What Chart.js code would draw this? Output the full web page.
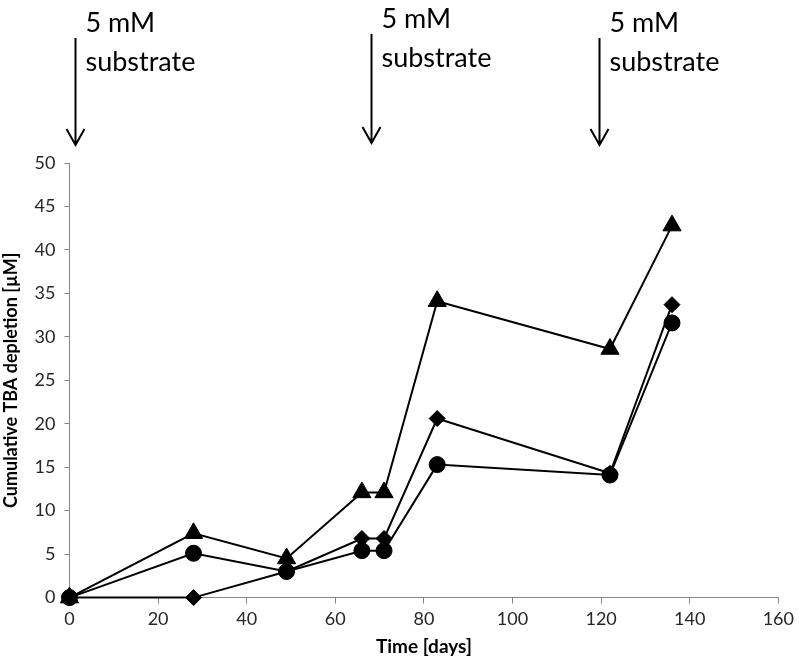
<!DOCTYPE html>
<html>
<head>
<meta charset="utf-8">
<script src="https://cdn.jsdelivr.net/npm/chart.js@4/dist/chart.umd.min.js"></script>
<style>
  html, body { margin: 0; padding: 0; background: #fff; }
  #wrap { width: 799px; height: 661px; }
</style>
</head>
<body>
<div id="wrap"><canvas id="tbaChart"></canvas></div>
<script>
// sampling days (same for all three series)
const days = [0, 28, 49, 66, 71, 83, 122, 136];

// cumulative TBA depletion [µM]
const triangleValues = [0, 7.4, 4.5, 12.1, 12.1, 34.1, 28.6, 42.8];
const diamondValues  = [0, 0, 3.0, 6.8, 6.8, 20.6, 14.3, 33.7];
const circleValues   = [0, 5.1, 3.0, 5.4, 5.4, 15.3, 14.1, 31.6];

// axis ticks
const xTicks = [0, 20, 40, 60, 80, 100, 120, 140, 160];
const yTicks = [0, 5, 10, 15, 20, 25, 30, 35, 40, 45, 50];

// substrate additions (days where the arrows point)
const feedDays = [1.3, 68, 119.5];
const feedLabel = ['5 mM', 'substrate'];

const FONT = 'Lato, "Open Sans", sans-serif';

function toPoints(values) {
    return days.map((d, i) => ({ x: d, y: values[i] }));
}

function makeSeries(label, values, style, radius) {
    return {
        label: label,
        data: toPoints(values),
        borderColor: '#000',
        backgroundColor: '#000',
        borderWidth: 2,
        pointStyle: style,
        pointRadius: radius,
        pointHoverRadius: radius,
        pointBorderWidth: 1,
        tension: 0,
        clip: false
    };
}

// draws the "5 mM substrate" arrows above the plot
const feedArrows = {
    id: 'feedArrows',
    afterDraw(chart) {
        const ctx = chart.ctx;
        const xScale = chart.scales.x;
        ctx.save();
        ctx.strokeStyle = '#000';
        ctx.fillStyle = '#000';
        ctx.lineWidth = 2;
        ctx.font = '27px ' + FONT;
        ctx.textBaseline = 'alphabetic';
        feedDays.forEach((d, i) => {
            const x = Math.round(xScale.getPixelForValue(d)) + 0.5;
            const top = i === 1 ? 34 : 38;
            const tip = i === 1 ? 143 : 145;
            ctx.beginPath();
            ctx.moveTo(x, top);
            ctx.lineTo(x, tip);
            ctx.moveTo(x - 9, tip - 16);
            ctx.lineTo(x, tip);
            ctx.lineTo(x + 9, tip - 16);
            ctx.stroke();
            const ty = i === 1 ? 28 : 32;
            ctx.fillText(feedLabel[0], x + 10, ty);
            ctx.fillText(feedLabel[1], x + 10, ty + 39);
        });
        ctx.restore();
    }
};

const ctx = document.getElementById('tbaChart').getContext('2d');
new Chart(ctx, {
    type: 'line',
    data: {
        datasets: [
            makeSeries('Triangle', triangleValues, 'triangle', 10.5),
            makeSeries('Diamond', diamondValues, 'rectRot', 8),
            makeSeries('Circle', circleValues, 'circle', 8)
        ]
    },
    options: {
        responsive: true,
        maintainAspectRatio: false,
        animation: false,
        layout: { padding: { top: 163, right: 15, left: 0, bottom: 3 } },
        plugins: {
            legend: { display: false },
            tooltip: { enabled: false }
        },
        scales: {
            x: {
                type: 'linear',
                min: 0,
                max: 160,
                afterBuildTicks: axis => { axis.ticks = xTicks.map(v => ({ value: v })); },
                grid: {
                    display: true,
                    drawOnChartArea: false,
                    drawTicks: true,
                    tickLength: 6,
                    color: '#868686'
                },
                border: { color: '#868686', width: 1 },
                ticks: {
                    color: '#262626',
                    font: { family: FONT, size: 18 },
                    padding: 5,
                    maxRotation: 0
                },
                title: {
                    display: true,
                    text: 'Time [days]',
                    color: '#000',
                    font: { family: FONT, size: 19, weight: 'bold' },
                    padding: { top: 0, bottom: 0 }
                }
            },
            y: {
                min: 0,
                max: 50,
                afterBuildTicks: axis => { axis.ticks = yTicks.map(v => ({ value: v })); },
                grid: {
                    display: true,
                    drawOnChartArea: false,
                    drawTicks: true,
                    tickLength: 5,
                    color: '#868686'
                },
                border: { color: '#868686', width: 1 },
                ticks: {
                    color: '#262626',
                    font: { family: FONT, size: 18 },
                    padding: 9
                },
                title: {
                    display: true,
                    text: 'Cumulative TBA depletion [µM]',
                    color: '#000',
                    font: { family: FONT, size: 18, weight: 'bold' },
                    padding: { top: 0, bottom: 4 }
                }
            }
        }
    },
    plugins: [feedArrows]
});
</script>
</body>
</html>
